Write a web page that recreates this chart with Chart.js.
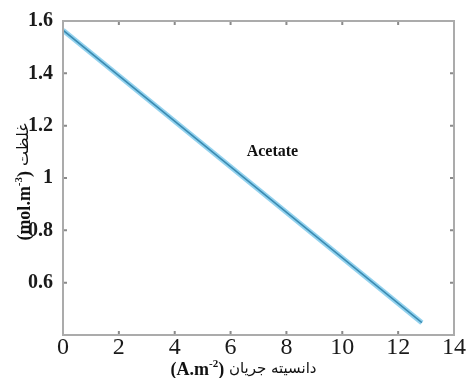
<!DOCTYPE html>
<html>
<head>
<meta charset="utf-8">
<script src="https://cdn.jsdelivr.net/npm/chart.js@4/dist/chart.umd.min.js"></script>
<style>
  html, body { margin: 0; padding: 0; background: #fff; }
  #wrap { width: 475px; height: 378px; }
</style>
</head>
<body>
<div id="wrap"><canvas id="myChart"></canvas></div>
<script>
// current density (A.m-2) vs concentration (mol.m-3)
const currentDensity = [0, 12.85];
const concentration = [1.565, 0.447];

const xTicks = [0, 2, 4, 6, 8, 10, 12, 14];
const yTickLabels = ['', '0.6', '0.8', '1', '1.2', '1.4', '1.6'];

const seriesLabel = 'Acetate';
const labelAt = { x: 7.5, y: 1.1 };

const xTitle = ['(A.m', '-2', ')', ' دانسیته جریان'];
const yTitle = ['(mol.m', '-3', ')', ' غلظت'];

const points = currentDensity.map((x, i) => ({ x: x, y: concentration[i] }));

const serif = '"Liberation Serif", "Times New Roman", "DejaVu Sans", serif';

// title = base / superscript / base / persian, centred at 0,0
function drawTitle(ctx, parts, fa) {
  const fonts = ['bold 18px ' + serif, 'bold 11px ' + serif, 'bold 18px ' + serif, fa + 'px "DejaVu Sans", sans-serif'];
  const offs = [0, -8, 0, -2];
  let w = 0;
  const widths = parts.map((p, i) => { ctx.font = fonts[i]; const m = ctx.measureText(p).width; w += m; return m; });
  let x = -w / 2;
  parts.forEach((p, i) => {
    ctx.font = fonts[i];
    ctx.fillText(p, x, offs[i]);
    x += widths[i];
  });
}

const framePlugin = {
  id: 'frame',
  afterDatasetsDraw(chart) {
    const ctx = chart.ctx;
    const a = chart.chartArea;
    const xs = chart.scales.x, ys = chart.scales.y;
    ctx.save();
    // inward ticks
    ctx.strokeStyle = '#8a8a8a';
    ctx.lineWidth = 2;
    ctx.beginPath();
    xs.ticks.forEach(t => {
      const px = xs.getPixelForValue(t.value);
      ctx.moveTo(px, a.bottom); ctx.lineTo(px, a.bottom - 4);
      ctx.moveTo(px, a.top); ctx.lineTo(px, a.top + 4);
    });
    ys.ticks.forEach(t => {
      const py = ys.getPixelForValue(t.value);
      ctx.moveTo(a.left, py); ctx.lineTo(a.left + 4, py);
      ctx.moveTo(a.right, py); ctx.lineTo(a.right - 4, py);
    });
    ctx.stroke();
    // box
    ctx.strokeStyle = '#ababab';
    ctx.strokeRect(a.left, a.top, a.right - a.left, a.bottom - a.top);

    // series label
    ctx.fillStyle = '#111';
    ctx.font = 'bold 16px ' + serif;
    ctx.textAlign = 'center';
    ctx.textBaseline = 'middle';
    ctx.fillText(seriesLabel, xs.getPixelForValue(labelAt.x), ys.getPixelForValue(labelAt.y));

    // axis titles
    ctx.textAlign = 'left';
    ctx.textBaseline = 'alphabetic';
    ctx.save();
    ctx.translate((a.left + a.right) / 2 - 15, 375);
    drawTitle(ctx, xTitle, 15);
    ctx.restore();
    ctx.save();
    ctx.translate(30, 182);
    ctx.rotate(-Math.PI / 2);
    drawTitle(ctx, yTitle, 16);
    ctx.restore();
    ctx.restore();
  }
};

const data = {
  datasets: [{
    label: 'glow',
    data: points,
    borderColor: 'rgba(135,205,236,0.9)',
    borderWidth: 5,
    pointRadius: 0,
    order: 2
  }, {
    label: seriesLabel,
    data: points,
    borderColor: '#3a8bb2',
    borderWidth: 1.5,
    pointRadius: 0,
    order: 1
  }]
};

const config = {
  type: 'line',
  data,
  options: {
    responsive: true,
    maintainAspectRatio: false,
    animation: false,
    layout: { padding: { top: 21, right: 21, left: 0, bottom: 0 } },
    scales: {
      x: {
        type: 'linear',
        min: 0,
        max: 14,
        afterBuildTicks: s => { s.ticks = xTicks.map(v => ({ value: v })); },
        afterFit: s => { s.height = 43; },
        grid: { display: false },
        border: { display: false },
        ticks: {
          color: '#1a1a1a',
          padding: -7,
          maxRotation: 0,
          autoSkip: false,
          font: { family: serif, size: 24, lineHeight: 1 }
        }
      },
      y: {
        min: 0.4,
        max: 1.6,
        afterBuildTicks: s => { s.ticks = yTickLabels.map((l, i) => ({ value: 0.4 + i * 0.2 })); },
        afterFit: s => { s.width = 63; },
        grid: { display: false },
        border: { display: false },
        ticks: {
          color: '#1a1a1a',
          padding: 2,
          callback: (v, i) => yTickLabels[i],
          font: { family: serif, size: 20, weight: 'bold' }
        }
      }
    },
    plugins: {
      legend: { display: false },
      tooltip: { enabled: false }
    }
  },
  plugins: [framePlugin]
};

const myChart = new Chart(document.getElementById('myChart'), config);
</script>
</body>
</html>
